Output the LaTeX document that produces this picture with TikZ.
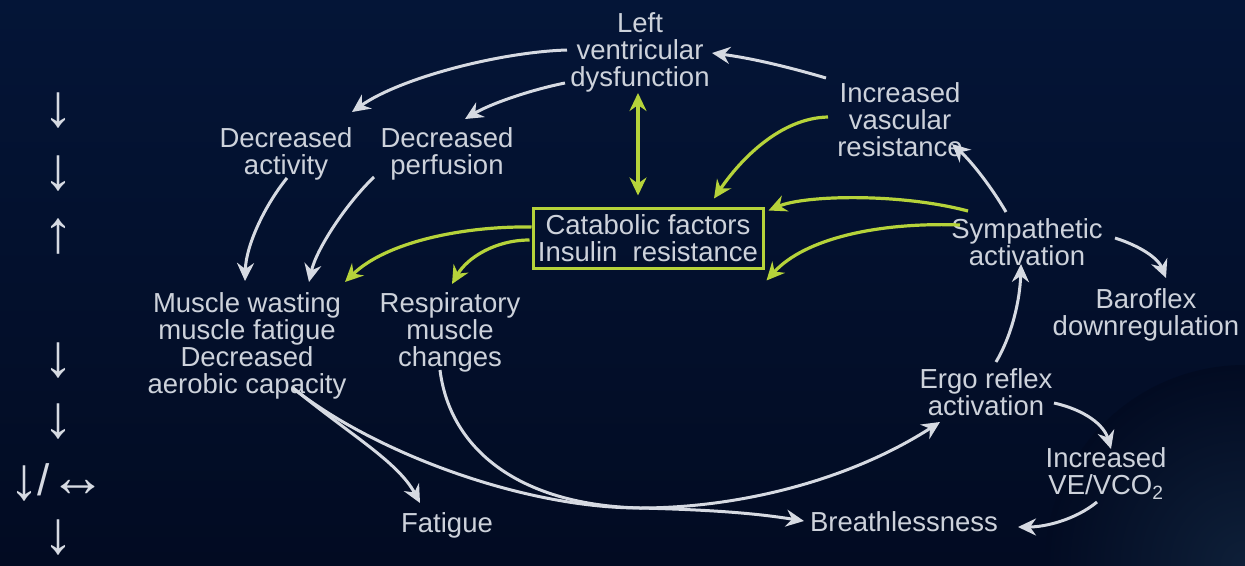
\documentclass[tikz,border=0pt]{standalone}
\usepackage{fontspec}
\setmainfont{Liberation Sans}
\usetikzlibrary{arrows.meta,calc}
\definecolor{bgtop}{HTML}{041537}
\definecolor{bgbot}{HTML}{020B22}
\definecolor{glow}{HTML}{0E1F38}
\definecolor{txt}{HTML}{CDD2DB}
\definecolor{wline}{HTML}{D6DAE2}
\definecolor{gline}{HTML}{B6D33A}
\begin{document}
\begin{tikzpicture}[x=1pt,y=-1pt,
  lbl/.style={text=txt, font=\fontsize{27.5}{27}\selectfont, align=center, inner sep=0pt, anchor=north},
  sign/.style={text=wline, font=\fontsize{60}{60}\selectfont, inner sep=0pt},
  tip/.style={-{Stealth[length=18pt,width=17pt,inset=6pt]}},
  wcon/.style={draw=wline, line width=3pt, tip},
  gcon/.style={draw=gline, line width=3.2pt, tip},
  catbox/.style={draw=gline, line width=3pt, minimum width=230pt, minimum height=60pt,
    inner sep=0pt, text=txt, font=\fontsize{27.5}{27}\selectfont, align=center}]
% background
\useasboundingbox (0,0) rectangle (1245,565);
\shade[top color=bgtop, bottom color=bgbot] (0,0) rectangle (1245,565);
\begin{scope}
  \clip (0,0) rectangle (1245,565);
  \shade[inner color=glow, outer color=bgbot] (1245,565) circle (200);
\end{scope}

% trend signs in the left column
\node[sign] (s1) at (58,111) {↓};
\node[sign] (s2) at (58,174) {↓};
\node[sign] (s3) at (58,237) {↑};
\node[sign] (s4) at (58,361) {↓};
\node[sign] (s5) at (58,422) {↓};
\node[sign] (s6) at (58,482) {↓\kern-2pt\raisebox{4pt}{\fontsize{44}{44}\selectfont/}\kern-1pt\raisebox{3pt}{\scalebox{0.95}{↔}}};
\node[sign] (s7) at (58,538) {↓};

% labels
\node[lbl] (lv) at (640,12) {Left\\ventricular\\dysfunction};
\node[lbl] (dact) at (286,127) {Decreased\\activity};
\node[lbl] (dperf) at (447,127) {Decreased\\perfusion};
\node[lbl] (ivr) at (900,82) {Increased\\vascular\\resistance};
\node[catbox] (box) at (648,238) {Catabolic factors\\Insulin\ \ resistance};
\node[lbl] (symp) at (1027,218) {Sympathetic\\activation};
\node[lbl] (baro) at (1146,288) {Baroflex\\downregulation};
\node[lbl] (muscle) at (247,292) {Muscle wasting\\muscle fatigue\\Decreased\\aerobic capacity};
\node[lbl] (resp) at (450,292) {Respiratory\\muscle\\changes};
\node[lbl] (ergo) at (986,368) {Ergo reflex\\activation};
\node[lbl] (vevco) at (1106,447) {Increased\\VE/VCO\textsubscript{2}};
\node[lbl] (breath) at (904,511) {Breathlessness};
\node[lbl] (fatigue) at (447,512) {Fatigue};

% white connectors
\draw[wcon] ($(lv.north)+(-73,38)$) .. controls (500,52) and (400,78) .. ($(dact.north)+(66,-15)$);
\draw[wcon] ($(lv.north)+(-75,71)$) .. controls (530,90) and (490,104) .. ($(dperf.north)+(18,-8)$);
\draw[wcon] ($(ivr.north)+(-74,-4)$) .. controls (785,66) and (750,58) .. ($(lv.north)+(72,41)$);
\draw[wcon] ($(dact.north)+(1,51)$) .. controls (265,205) and (246,245) .. ($(muscle.north)+(-2,-11)$);
\draw[wcon] ($(dperf.north)+(-73,50)$) .. controls (345,205) and (316,250) .. ($(muscle.north)+(62,-10)$);
\draw[wcon] ($(symp.north)+(-21,-6)$) .. controls (992,188) and (972,162) .. ($(ivr.north)+(52,62)$);
\draw[wcon] ($(symp.north)+(88,20)$) .. controls (1140,246) and (1158,258) .. ($(baro.north)+(20,-10)$);
\draw[wcon] ($(ergo.north)+(10,-6)$) .. controls (1012,335) and (1020,300) .. ($(symp.north)+(-6,46)$);
\draw[wcon] ($(ergo.north)+(68,35)$) .. controls (1085,410) and (1104,425) .. ($(vevco.north)+(5,2)$);
\draw[wcon] ($(vevco.north)+(-9,55)$) .. controls (1075,520) and (1045,527) .. ($(breath.north)+(114,16)$);
\draw[wcon] ($(muscle.north)+(46,96)$) .. controls (352,436) and (398,462) .. ($(fatigue.north)+(-27,-9)$);
\draw[wcon] ($(muscle.north)+(46,96)$) .. controls (370,450) and (520,508) .. (640,508)
  .. controls (740,508) and (850,480) .. ($(ergo.north)+(-46,54)$);
\draw[wcon] ($(resp.north)+(-10,78)$) .. controls (450,450) and (520,505) .. (640,508)
  .. controls (720,510) and (760,514) .. ($(breath.north)+(-100,10)$);

% green connectors
\draw[gcon, {Stealth[length=18pt,width=17pt,inset=6pt]}-{Stealth[length=18pt,width=17pt,inset=6pt]}]
  ($(lv.north)+(-2,81)$) -- ($(box.north)+(-10,-11)$);
\draw[gcon] ($(ivr.north)+(-72,35)$) .. controls (780,118) and (740,160) .. ($(box.north)+(66,-8)$);
\draw[gcon] ($(symp.north)+(-59,-7)$) .. controls (900,193) and (805,195) .. ($(box.north east)+(4,4)$);
\draw[gcon] ($(symp.north)+(-67,7)$) .. controls (880,222) and (805,238) .. ($(box.south east)+(2,11)$);
\draw[gcon] ($(box.west)+(0,-11)$) .. controls (460,226) and (385,243) .. ($(muscle.north)+(98,-10)$);
\draw[gcon] ($(box.west)+(-2,2)$) .. controls (495,240) and (467,258) .. ($(resp.north)+(2,-8)$);
\end{tikzpicture}
\end{document}
